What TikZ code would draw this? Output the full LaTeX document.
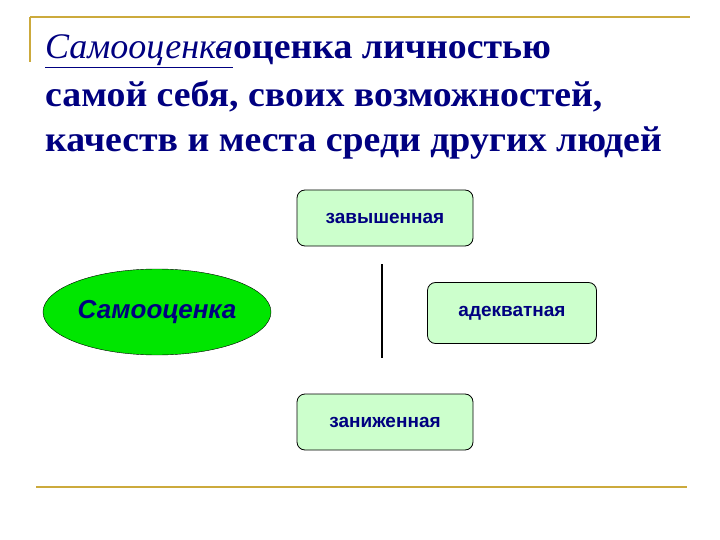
\documentclass[tikz,border=0pt]{standalone}
\usepackage{fontspec}
\setmainfont{Liberation Serif}
\setsansfont{Liberation Sans}
\newfontfamily\headfont[FakeStretch=1.05]{Liberation Serif}
\usetikzlibrary{shapes.geometric}
\definecolor{navy}{RGB}{0,0,128}
\definecolor{gold}{RGB}{204,170,60}
\definecolor{boxgreen}{RGB}{204,255,204}
\definecolor{ovalgreen}{RGB}{0,230,0}
\tikzset{
  title/.style={anchor=base west,inner sep=0pt,text=navy,font=\headfont\bfseries\fontsize{36}{40}\selectfont},
  level/.style={draw,line width=0.8pt,rounded corners=8pt,fill=boxgreen,minimum width=176pt,
    minimum height=56pt,text=navy,font=\sffamily\bfseries\fontsize{19}{22}\selectfont},
}

\begin{document}
\begin{tikzpicture}[x=1pt,y=-1pt]
\useasboundingbox (0,0) rectangle (720,540);
% frame lines
\draw[gold,line width=2.5pt] (30,17)--(690,17);
\draw[gold,line width=2.5pt] (30,17)--(30,62);
\draw[gold,line width=2.5pt] (36,487)--(687,487);
% definition
\node[title] (t1) at (45,59) {\underline{\mdseries\itshape\rmfamily Самооценка}\llap{-\kern0.15em}оценка личностью};
\node[title] (t2) at (45,107) {самой себя, своих возможностей,};
\node[title] (t3) at (45,152) {качеств и места среди других людей};
% scheme
\node[ellipse,draw,fill=ovalgreen,inner sep=0pt,minimum width=228pt,minimum height=86pt,
  text=navy,font=\sffamily\bfseries\itshape\fontsize{26}{30}\selectfont] (self) at (157,312) {Самооценка};
\node[level] (high) at (385,218) {завышенная};
\node[level,minimum width=169pt,minimum height=61pt] (norm) at (512,313) {адекватная};
\node[level] (low) at (385,422) {заниженная};
\coordinate (top) at (382,264);
\coordinate (bot) at (382,358);
\draw[line width=1.5pt] (top)--(bot);
\end{tikzpicture}
\end{document}
